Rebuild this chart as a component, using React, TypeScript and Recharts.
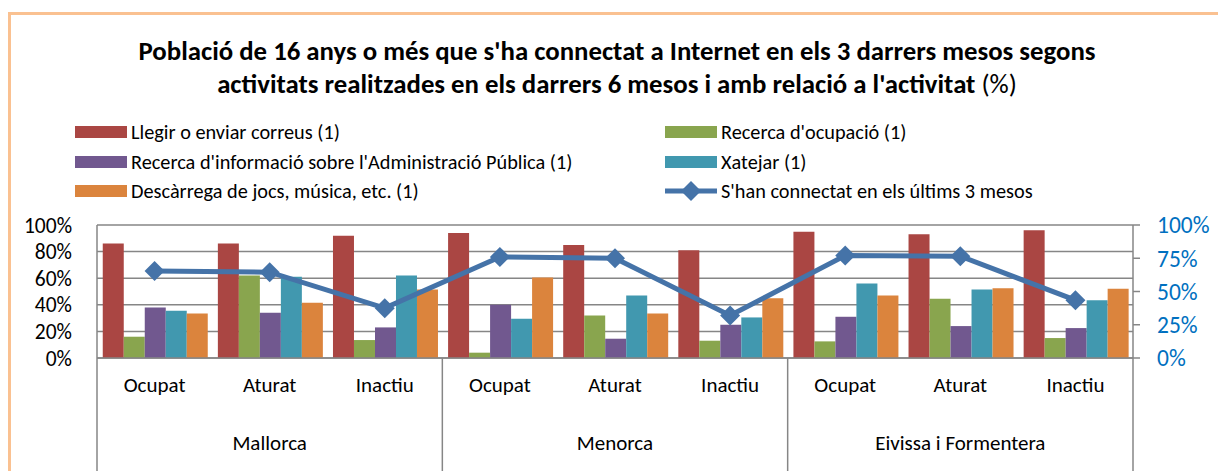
import { Bar, CartesianGrid, ComposedChart, Line, XAxis, YAxis } from "recharts";

const illes = ["Mallorca", "Menorca", "Eivissa i Formentera"];
const activitats = ["Ocupat", "Aturat", "Inactiu"];

// valors en %, ordre: Mallorca (Ocupat, Aturat, Inactiu), Menorca, Eivissa i Formentera
const correus = [86, 86, 92, 94, 85, 81, 95, 93, 96];
const ocupacio = [16, 62, 13.5, 4, 32, 13, 12.5, 44.5, 15];
const administracio = [38, 34, 23, 40, 14.5, 25, 31, 24, 22.5];
const xatejar = [35.5, 61, 62, 29.5, 47, 30.5, 56, 51.5, 43.5];
const descarrega = [33.5, 41.5, 51.5, 60.5, 33.5, 45, 47, 52.5, 52];
const connectat = [65.5, 64.5, 37.5, 76, 75, 32, 77, 76.5, 43.5];

const ticksEsquerra = [0, 20, 40, 60, 80, 100];
const ticksDreta = [0, 25, 50, 75, 100];

const barres = [
  { key: "correus", name: "Llegir o enviar correus (1)", color: "#AA4643" },
  { key: "ocupacio", name: "Recerca d'ocupació (1)", color: "#89A54E" },
  { key: "administracio", name: "Recerca d'informació sobre l'Administració Pública (1)", color: "#71588F" },
  { key: "xatejar", name: "Xatejar (1)", color: "#4198AF" },
  { key: "descarrega", name: "Descàrrega de jocs, música, etc. (1)", color: "#DB843D" },
];
const linia = { key: "connectat", name: "S'han connectat en els últims 3 mesos", color: "#4573A8" };

const data = illes.flatMap((illa, i) =>
  activitats.map((activitat, j) => {
    const k = i * 3 + j;
    return {
      idx: k,
      illa,
      activitat,
      correus: correus[k],
      ocupacio: ocupacio[k],
      administracio: administracio[k],
      xatejar: xatejar[k],
      descarrega: descarrega[k],
      connectat: connectat[k],
    };
  })
);

const FONT = "Carlito, Lato, 'Liberation Sans', sans-serif";
const GRIS = "#868686";

function Diamond({ cx, cy }: any) {
  if (cx == null || cy == null) return null;
  const r = 10;
  return (
    <path
      d={`M${cx},${cy - r}L${cx + r},${cy}L${cx},${cy + r}L${cx - r},${cy}Z`}
      fill={linia.color}
    />
  );
}

function ActivitatTick({ x, y, payload }: any) {
  const d = data[payload.value];
  return (
    <text x={x} y={y + 27} textAnchor="middle" dominantBaseline="central" fontSize={21} fill="#000" fontFamily={FONT}>
      {d?.activitat}
    </text>
  );
}

function IllaTick({ x, y, payload }: any) {
  const i = payload.value;
  const half = payload.offset || 57.6;
  return (
    <g>
      {i % 3 === 0 && (
        <line x1={x - half} x2={x - half} y1={y - 56} y2={y + 80} stroke={GRIS} strokeWidth={1.5} />
      )}
      {i === data.length - 1 && (
        <line x1={x + half} x2={x + half} y1={y - 56} y2={y + 80} stroke={GRIS} strokeWidth={1.5} />
      )}
      {i % 3 === 1 && (
        <text x={x} y={y + 29} textAnchor="middle" dominantBaseline="central" fontSize={21} fill="#000" fontFamily={FONT}>
          {data[i].illa}
        </text>
      )}
    </g>
  );
}

function Llegenda() {
  const items = [
    barres[0], barres[1],
    barres[2], barres[3],
    barres[4], null,
  ];
  const files = [0, 1, 2];
  return (
    <div style={{ position: "absolute", left: 0, top: 0 }}>
      {files.map((f) =>
        [0, 1].map((c) => {
          const it = items[f * 2 + c];
          const left = c === 0 ? 75 : 665;
          const top = 132 + f * 29.5;
          return (
            <div
              key={`${f}-${c}`}
              style={{ position: "absolute", left, top: top - 12, height: 24, display: "flex", alignItems: "center", whiteSpace: "nowrap" }}
            >
              {it ? (
                <div style={{ width: 52, height: 12, background: it.color }} />
              ) : (
                <svg width={52} height={24}>
                  <line x1={0} x2={52} y1={12} y2={12} stroke={linia.color} strokeWidth={5} />
                  <Diamond cx={26} cy={12} />
                </svg>
              )}
              <span style={{ marginLeft: 4, fontSize: 20.3, fontFamily: FONT, color: "#000" }}>
                {it ? it.name : linia.name}
              </span>
            </div>
          );
        })
      )}
    </div>
  );
}

export default function App() {
  return (
    <div style={{ position: "absolute", left: 0, top: 0, width: 1218, height: 471, overflow: "hidden", background: "#fff" }}>
      <div
        style={{
          position: "absolute",
          left: 8,
          top: 12,
          width: 1400,
          height: 600,
          borderLeft: "3px solid #FAC191",
          borderTop: "3px solid #FAC191",
        }}
      />
      <div
        style={{
          position: "absolute",
          left: 0,
          top: 34,
          width: 1234,
          textAlign: "center",
          fontFamily: FONT,
          fontSize: 26.8,
          lineHeight: "33px",
          color: "#000",
        }}
      >
        <b>Població de 16 anys o més que s'ha connectat a Internet en els 3 darrers mesos segons</b>
        <br />
        <b>activitats realitzades en els darrers 6 mesos i amb relació a l'activitat</b> (%)
      </div>
      <Llegenda />
      <div style={{ position: "absolute", left: 0, top: 0 }}>
        <ComposedChart
          width={1218}
          height={471}
          data={data}
          margin={{ top: 225, right: 25, bottom: 0, left: 37 }}
          barCategoryGap="5%"
          barGap={0}
        >
          <CartesianGrid yAxisId="left" vertical={false} stroke={GRIS} strokeWidth={1.5} />
          <XAxis
            xAxisId="cat"
            dataKey="idx"
            type="category"
            interval={0}
            height={56}
            tickSize={0}
            tickMargin={0}
            axisLine={{ stroke: GRIS, strokeWidth: 1.5 }}
            tickLine={false}
            tick={<ActivitatTick />}
          />
          <XAxis
            xAxisId="illa"
            dataKey="idx"
            type="category"
            interval={0}
            height={57}
            tickSize={0}
            tickMargin={0}
            axisLine={false}
            tickLine={false}
            tick={<IllaTick />}
          />
          <YAxis
            yAxisId="left"
            orientation="left"
            width={60}
            domain={[0, 100]}
            ticks={ticksEsquerra}
            interval={0}
            tickFormatter={(v) => `${v}%`}
            axisLine={{ stroke: GRIS, strokeWidth: 1.5 }}
            tickLine={false}
            tickSize={0}
            tickMargin={25}
            tick={{ fontSize: 21.5, fill: "#000", fontFamily: FONT }}
          />
          <YAxis
            yAxisId="right"
            orientation="right"
            width={60}
            domain={[0, 100]}
            ticks={ticksDreta}
            interval={0}
            tickFormatter={(v) => `${v}%`}
            axisLine={{ stroke: GRIS, strokeWidth: 1.5 }}
            tickLine={{ stroke: GRIS, strokeWidth: 1.5 }}
            tickSize={7}
            tickMargin={17}
            tick={{ fontSize: 23.5, fill: "#0070C0", fontFamily: FONT }}
          />
          {barres.map((b) => (
            <Bar
              key={b.key}
              xAxisId="cat"
              yAxisId="left"
              dataKey={b.key}
              name={b.name}
              fill={b.color}
              isAnimationActive={false}
            />
          ))}
          <Line
            xAxisId="cat"
            yAxisId="right"
            dataKey={linia.key}
            name={linia.name}
            stroke={linia.color}
            strokeWidth={5}
            dot={<Diamond />}
            activeDot={false}
            isAnimationActive={false}
          />
        </ComposedChart>
      </div>
    </div>
  );
}
